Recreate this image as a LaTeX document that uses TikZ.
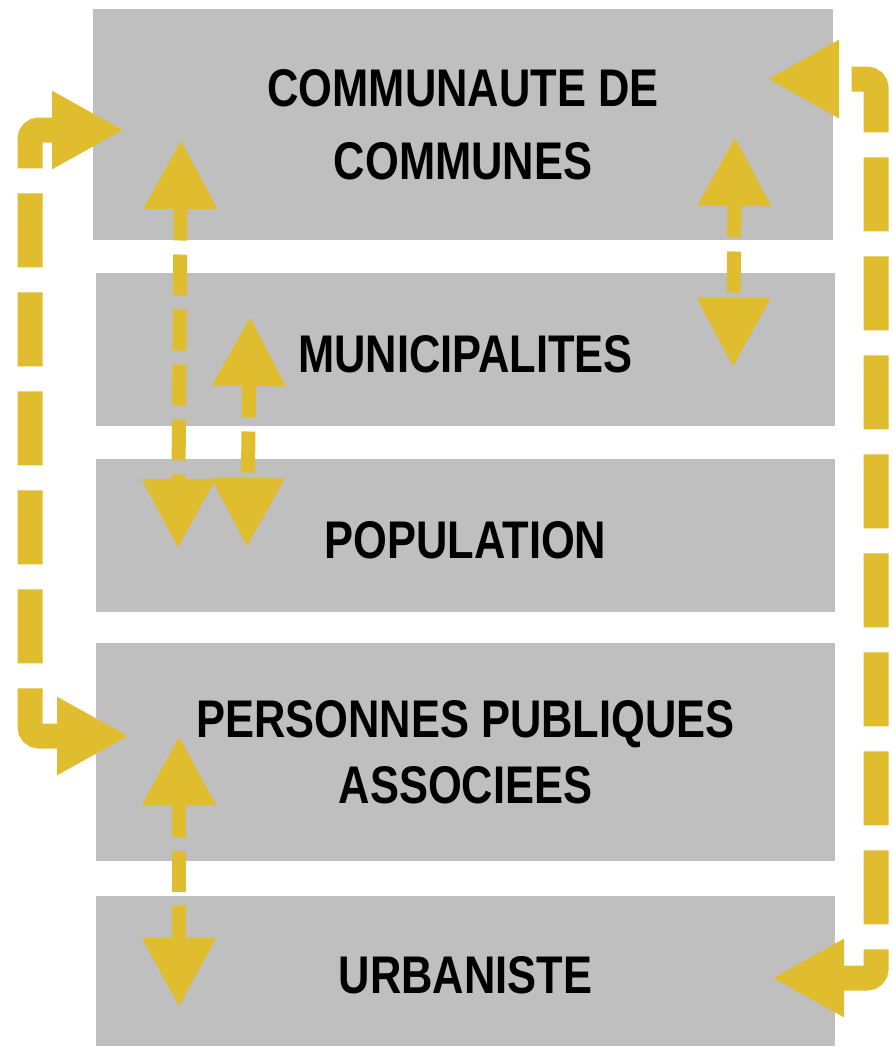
\documentclass[tikz,border=0pt]{standalone}
\usepackage{fontspec}
\usetikzlibrary{arrows.meta}
\newfontfamily\boxfont[FakeStretch=0.82]{Liberation Sans}
\definecolor{boxgray}{RGB}{191,191,191}
\definecolor{gold}{RGB}{224,189,46}

\begin{document}
\begin{tikzpicture}
[x=1pt, y=-1pt,
 every node/.style={inner sep=0pt},
 level/.style={rectangle, fill=boxgray, minimum width=739pt, align=center, font=\boxfont\bfseries\fontsize{53}{66}\selectfont, execute at begin node={\rule{0pt}{46pt}}},
 loopline/.style={line width=25pt, draw=gold, rounded corners=9pt, dash pattern=on 74pt off 25pt, {Triangle[width=73pt,length=72pt]}-{Triangle[width=73pt,length=72pt]}},
 link/.style={line width=14pt, draw=gold, dash pattern=on 41pt off 14pt, dash phase=6pt, {Triangle[width=70pt,length=69pt]}-{Triangle[width=70pt,length=69pt]}}]
\useasboundingbox (0,0) rectangle (893,1047);
% the five levels
\node (cc) [level, minimum width=740pt, minimum height=231pt] at (463,124.5) {COMMUNAUTE DE\\[7pt]COMMUNES};
\node (mun) [level, minimum height=153pt] at (465.5,349.5) {MUNICIPALITES};
\node (pop) [level, minimum height=153pt] at (465.5,535.5) {POPULATION};
\node (ppa) [level, minimum height=218pt] at (465.5,752) {PERSONNES PUBLIQUES\\ASSOCIEES};
\node (urb) [level, minimum height=150pt] at (465.5,971) {URBANISTE};
% arrow ends
\coordinate (cc-in) at (124,130);
\coordinate (ppa-in) at (129,736);
\coordinate (westrail) at (30,500);
\coordinate (cc-back) at (767,79);
\coordinate (urb-back) at (772,978);
\coordinate (eastrail) at (876,500);
\coordinate (cc-a) at (181,140);
\coordinate (pop-a) at (178,548);
\coordinate (mun-b) at (250,317);
\coordinate (pop-b) at (247,547);
\coordinate (cc-c) at (735,137);
\coordinate (mun-c) at (733,367);
\coordinate (ppa-d) at (179,736);
\coordinate (urb-d) at (179,1007);
% outer loops
\draw [loopline, dash phase=13pt] (cc-in) -- (cc-in -| westrail) |- (ppa-in);
\draw [loopline, dash phase=82pt] (cc-back) -- (cc-back -| eastrail) |- (urb-back);
% exchanges between levels
\draw [link] (cc-a) -- (pop-a);
\draw [link] (mun-b) -- (pop-b);
\draw [link] (cc-c) -- (mun-c);
\draw [link] (ppa-d) -- (urb-d);
\end{tikzpicture}
\end{document}
